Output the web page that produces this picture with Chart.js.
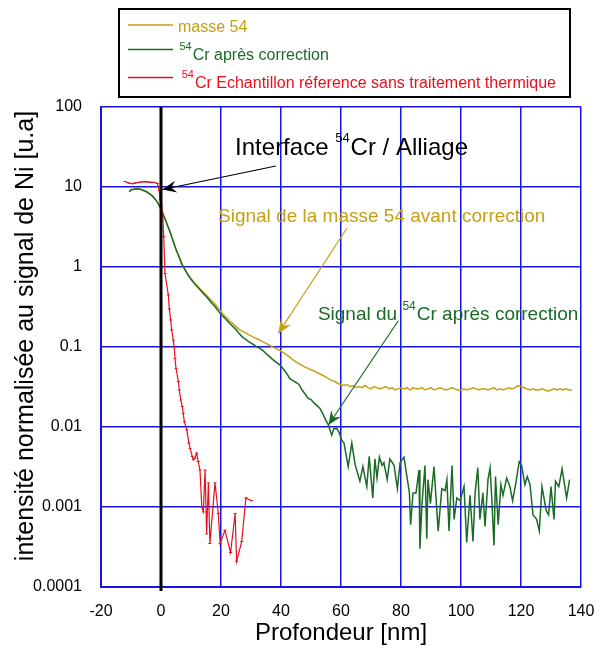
<!DOCTYPE html>
<html>
<head>
<meta charset="utf-8">
<script src="https://cdn.jsdelivr.net/npm/chart.js@4.4.1/dist/chart.umd.min.js"></script>
<style>
  html, body { margin: 0; padding: 0; background: #fff; }
  #wrap { width: 595px; height: 649px; position: relative; }
</style>
</head>
<body>
<div id="wrap"><canvas id="profile"></canvas></div>
<script>
// SIMS depth profiles, log intensity vs depth
const FONT = "'Liberation Sans', Arial, sans-serif";
const GOLD = '#c8a014';
const GREEN = '#1b6b27';
const RED = '#e8101c';
const GRID = 'rgb(20,20,230)';

const yTicks = [0.0001, 0.001, 0.01, 0.1, 1, 10, 100];
const yTickLabels = ['0.0001', '0.001', '0.01', '0.1', '1', '10', '100'];
const yTitle = 'intensité normalisée au signal de Ni [u.a]';

// masse 54 (raw signal)
const massDepth = [-10.6,-10,-9,-8,-7,-6,-5,-4,-3,-2,-1,0,1,2,3,4,5,6,7,8,9,
  10,11,12,13,14,15,16,17,18,19,20,21,22,23,24,25,26,27,28,29,30,31,32,33,34,35,36,37,38,39,
  40,41,42,43,44,45,46,47,48,49,50,51,52,53,54,55,56,57,58,59,60,61,62,63,64,65,66,67,68,69,
  70,71,72,73,74,75,76,77,78,79,80,81,82,83,84,85,86,87,88,89,90,91,92,93,94,95,96,97,98,99,
  100,101,102,103,104,105,106,107,108,109,110,111,112,113,114,115,116,117,118,119,
  120,121,122,123,124,125,126,127,128,129,130,131,132,133,134,135,136,137];
const massSignal = [8.7,9.2,9.4,9.5,9.4,9.1,8.8,8.3,7.8,7.1,6.3,5.3,4.3,3.45,2.75,2.15,1.65,1.35,1.08,0.93,0.8,
  0.72,0.645,0.585,0.535,0.49,0.45,0.41,0.375,0.345,0.31,0.275,0.25,0.23,0.21,0.195,0.18,0.166,0.158,0.151,0.144,
  0.138,0.132,0.127,0.122,0.116,0.111,0.106,0.101,0.097,0.093,
  0.089,0.084,0.079,0.074,0.069,0.065,0.062,0.059,0.056,0.054,0.052,0.05,0.048,0.046,0.044,0.042,0.04,0.038,0.037,0.035,
  0.034,0.033,0.034,0.032,0.033,0.031,0.032,0.031,0.033,0.031,
  0.030,0.032,0.031,0.030,0.031,0.032,0.030,0.031,0.029,0.030,0.031,0.030,0.031,0.029,0.031,0.030,0.030,0.031,0.029,0.030,
  0.031,0.029,0.030,0.031,0.030,0.029,0.030,0.031,0.030,0.029,
  0.029,0.030,0.029,0.030,0.031,0.030,0.029,0.030,0.030,0.029,0.030,0.031,0.029,0.030,0.029,0.030,0.031,0.030,0.031,0.033,
  0.032,0.031,0.030,0.029,0.030,0.029,0.029,0.030,0.029,0.028,0.029,0.030,0.029,0.030,0.029,0.030,0.029,0.029];

// 54Cr after correction
const crDepth = [-10.6,-10,-9,-8,-7,-6,-5,-4,-3,-2,-1,0,1,2,3,4,5,6,7,8,9,
  10,11,12,13,14,15,16,17,18,19,20,21,22,23,24,25,26,27,28,29,30,31,32,33,34,35,36,37,38,39,
  40,41,42,43,44,45,46,47,48,49,50,51,52,53,54,55,55.8,56.9,57.6,58.6,59.4,60.2,61,
  62.4,63.6,64.7,66.3,67.3,68.6,69.4,70.6,71.3,72,72.8,73.7,74.3,75.4,76.3,77.7,78.8,79.7,
  81,82.8,83.2,84,85,86,86.3,87,88,88.6,89,89.8,91,92.4,93.6,94.7,95.3,96,97,97.7,98.6,99.7,
  101,101.9,103,104,104.7,105.6,106.3,107.3,108,109,109.7,110.2,111,111.5,112.4,113.3,114,
  115.2,116.3,117.2,118.3,119.4,120.2,121.3,122.1,123,124,125.2,126.1,127,128.4,129.2,
  130,131,131.5,132.6,133.7,135.2,136.2];
const crSignal = [8.7,9.2,9.4,9.5,9.4,9.1,8.8,8.3,7.8,7.1,6.3,5.3,4.3,3.45,2.75,2.15,1.65,1.35,1.08,0.93,0.8,
  0.7,0.63,0.57,0.52,0.47,0.43,0.39,0.35,0.32,0.285,0.256,0.235,0.215,0.195,0.18,0.165,0.148,0.135,0.126,0.118,
  0.112,0.106,0.1,0.096,0.09,0.083,0.077,0.071,0.066,0.062,
  0.058,0.052,0.046,0.040,0.038,0.036,0.034,0.029,0.026,0.023,0.022,0.020,0.0185,0.017,0.0145,0.012,0.0106,0.0079,0.0095,0.0096,0.0085,0.0069,0.0063,
  0.0032,0.0063,0.0034,0.0021,0.0032,0.0018,0.0043,0.0013,0.0040,0.0023,0.0042,0.0033,0.0036,0.0022,0.0040,0.0033,0.0017,0.0036,
  0.0042,0.0015,0.0006,0.0015,0.0015,0.0029,0.0003,0.0011,0.0033,0.0004,0.0022,0.0011,0.0032,0.0005,0.0017,0.0016,0.0022,0.0005,0.0033,0.0007,0.0013,0.0012,
  0.0018,0.00036,0.0014,0.00037,0.0015,0.0031,0.0007,0.0015,0.00057,0.0022,0.0031,0.0014,0.00033,0.0024,0.0006,0.0019,0.0014,
  0.0023,0.0018,0.0012,0.0020,0.0037,0.0033,0.0019,0.0024,0.0019,0.0008,0.0007,0.0005,0.0018,0.0009,0.0008,
  0.0018,0.0007,0.0021,0.0018,0.0030,0.0013,0.0022];

// 54Cr reference sample, no heat treatment
const refDepth = [-12,-11,-10.3,-9.5,-8.8,-8.1,-7,-5.9,-5,-4,-3,-2.2,-1.2,-0.6,-0.3,0.2,0.6,0.9,
  1.33,2.44,2.78,3.22,3.56,4.1,4.4,4.67,5,5.8,6.1,6.6,7.1,7.4,7.8,8.6,9.3,9.7,10.4,10.8,11.3,11.9,12.4,
  13,13.6,14.1,14.7,15.2,15.8,16.3,18,19.1,19.7,21.3,23.2,24.7,25.2,26.9,28.3,30.2];
const refSignal = [11.7,11.3,11.1,11.0,11.2,11.3,11.5,11.7,11.6,11.5,11.4,11.4,11.1,9.1,6.9,5.7,4.25,2.4,
  0.83,0.447,0.30,0.218,0.163,0.122,0.1,0.072,0.054,0.037,0.029,0.0218,0.018,0.0148,0.0116,0.0092,0.0063,0.0054,0.0043,0.0039,0.0041,0.0047,0.0037,
  0.0029,0.0010,0.00087,0.0029,0.00046,0.0020,0.00035,0.0020,0.00083,0.00035,0.00051,0.00027,0.00083,0.00021,0.00037,0.0013,0.0012];

// annotations: [depth, intensity] pairs for arrow tail and tip, text anchor
const interfaceArrow = [[38.3, 18.3], [0.5, 9.3]];
const interfaceText = [24.7, 25.1];
const massArrow = [[62, 3.07], [39.1, 0.148]];
const massText = [19, 3.68];
const crArrow = [[79.1, 0.213], [55.8, 0.0106]];
const crText = [52.3, 0.2175];

const legendNames = ['masse 54', 'Cr après correction', 'Cr Echantillon réference sans traitement thermique'];
const legendIsotope = ['', '54', '54'];
const legendColors = [GOLD, GREEN, RED];

const pairs = (xs, ys) => xs.map((x, i) => ({ x: x, y: ys[i] }));

function richText(ctx, x, y, pre, sup, post, size, supSize, rise) {
  ctx.textBaseline = 'alphabetic';
  ctx.textAlign = 'left';
  ctx.font = size + 'px ' + FONT;
  ctx.fillText(pre, x, y);
  x += ctx.measureText(pre).width;
  if (sup) {
    ctx.font = supSize + 'px ' + FONT;
    ctx.fillText(sup, x, y - rise);
    x += ctx.measureText(sup).width + 1;
    ctx.font = size + 'px ' + FONT;
  }
  ctx.fillText(post, x, y);
}

function arrow(ctx, x1, y1, x2, y2, color, width) {
  ctx.save();
  ctx.strokeStyle = color;
  ctx.fillStyle = color;
  ctx.lineWidth = width;
  ctx.beginPath();
  ctx.moveTo(x1, y1);
  ctx.lineTo(x2, y2);
  ctx.stroke();
  const a = Math.atan2(y2 - y1, x2 - x1);
  ctx.translate(x2, y2);
  ctx.rotate(a);
  ctx.beginPath();
  ctx.moveTo(0, 0);
  ctx.lineTo(-14, -6);
  ctx.lineTo(-9, 0);
  ctx.lineTo(-14, 6);
  ctx.closePath();
  ctx.fill();
  ctx.restore();
}

const overlay = {
  id: 'overlay',
  afterDatasetsDraw(chart) {
    const { ctx, chartArea, scales } = chart;
    const px = v => scales.x.getPixelForValue(v);
    const py = v => scales.y.getPixelForValue(v);

    // interface marker at depth 0
    ctx.save();
    ctx.strokeStyle = '#000';
    ctx.lineWidth = 3;
    ctx.beginPath();
    ctx.moveTo(px(0), chartArea.top);
    ctx.lineTo(px(0), chartArea.bottom + 4);
    ctx.stroke();

    arrow(ctx, px(interfaceArrow[0][0]), py(interfaceArrow[0][1]), px(interfaceArrow[1][0]), py(interfaceArrow[1][1]), '#000', 1.2);
    arrow(ctx, px(massArrow[0][0]), py(massArrow[0][1]), px(massArrow[1][0]), py(massArrow[1][1]), GOLD, 1.2);
    arrow(ctx, px(crArrow[0][0]), py(crArrow[0][1]), px(crArrow[1][0]), py(crArrow[1][1]), GREEN, 1.2);

    ctx.fillStyle = '#000';
    richText(ctx, px(interfaceText[0]), py(interfaceText[1]), 'Interface ', '54', 'Cr / Alliage', 24, 13, 13);
    ctx.fillStyle = GOLD;
    richText(ctx, px(massText[0]), py(massText[1]), 'Signal de la masse 54 avant correction', '', '', 19, 12, 10);
    ctx.fillStyle = GREEN;
    richText(ctx, px(crText[0]), py(crText[1]), 'Signal du ', '54', 'Cr après correction', 19, 12, 10);
    ctx.restore();
  },
  afterDraw(chart) {
    const ctx = chart.ctx;
    ctx.save();
    // vertical axis title
    ctx.save();
    ctx.translate(26, 336);
    ctx.rotate(-Math.PI / 2);
    ctx.fillStyle = '#000';
    ctx.font = '25px ' + FONT;
    ctx.textAlign = 'center';
    ctx.textBaseline = 'middle';
    ctx.fillText(yTitle, 0, 0);
    ctx.restore();

    // legend box above the plot
    ctx.strokeStyle = '#000';
    ctx.lineWidth = 2;
    ctx.strokeRect(119, 9, 451, 88);
    const lineY = [25, 49.5, 77.5];
    const textY = [31.5, 59.5, 88];
    const supX = [178, 179.5, 181.7];
    legendNames.forEach((name, i) => {
      ctx.strokeStyle = legendColors[i];
      ctx.lineWidth = 1.5;
      ctx.beginPath();
      ctx.moveTo(128, lineY[i]);
      ctx.lineTo(173, lineY[i]);
      ctx.stroke();
      ctx.fillStyle = legendColors[i];
      richText(ctx, supX[i], textY[i], '', legendIsotope[i], name, 16, 11, 10);
    });
    ctx.restore();
  }
};

const ctx = document.getElementById('profile').getContext('2d');
new Chart(ctx, {
  type: 'line',
  data: {
    datasets: [
      { label: 'ref', data: pairs(refDepth, refSignal), borderColor: RED, borderWidth: 1.2, pointStyle: 'line', pointRadius: 1.5, pointBorderWidth: 1, pointBorderColor: RED, tension: 0 },
      { label: 'cr', data: pairs(crDepth, crSignal), borderColor: GREEN, borderWidth: 1.5, pointRadius: 0, tension: 0 },
      { label: 'masse', data: pairs(massDepth, massSignal), borderColor: GOLD, borderWidth: 1.5, pointRadius: 0, tension: 0 }
    ]
  },
  options: {
    responsive: true,
    maintainAspectRatio: false,
    animation: false,
    layout: { padding: { top: 107, right: 14, left: 0, bottom: 0 } },
    plugins: { legend: { display: false }, tooltip: { enabled: false } },
    scales: {
      x: {
        type: 'linear', min: -20, max: 140,
        afterFit: s => { s.height = 62; s.paddingLeft = 0; s.paddingRight = 0; },
        ticks: { stepSize: 20, color: '#000', padding: 15, font: { family: FONT, size: 16 } },
        grid: { color: GRID, lineWidth: 1.5, drawTicks: false },
        border: { color: GRID, width: 2 },
        title: { display: true, text: 'Profondeur [nm]', color: '#000', font: { family: FONT, size: 24 }, padding: { top: 0, bottom: 1 } }
      },
      y: {
        type: 'logarithmic', min: 0.0001, max: 100,
        afterFit: s => { s.width = 101; },
        afterBuildTicks: s => { s.ticks = yTicks.map(v => ({ value: v })); },
        ticks: { color: '#000', padding: 19, font: { family: FONT, size: 16 },
          callback: v => { const i = yTicks.indexOf(v); return i >= 0 ? yTickLabels[i] : ''; } },
        grid: { color: GRID, lineWidth: 1.5, drawTicks: false },
        border: { color: GRID, width: 2 }
      }
    }
  },
  plugins: [overlay]
});
</script>
</body>
</html>
